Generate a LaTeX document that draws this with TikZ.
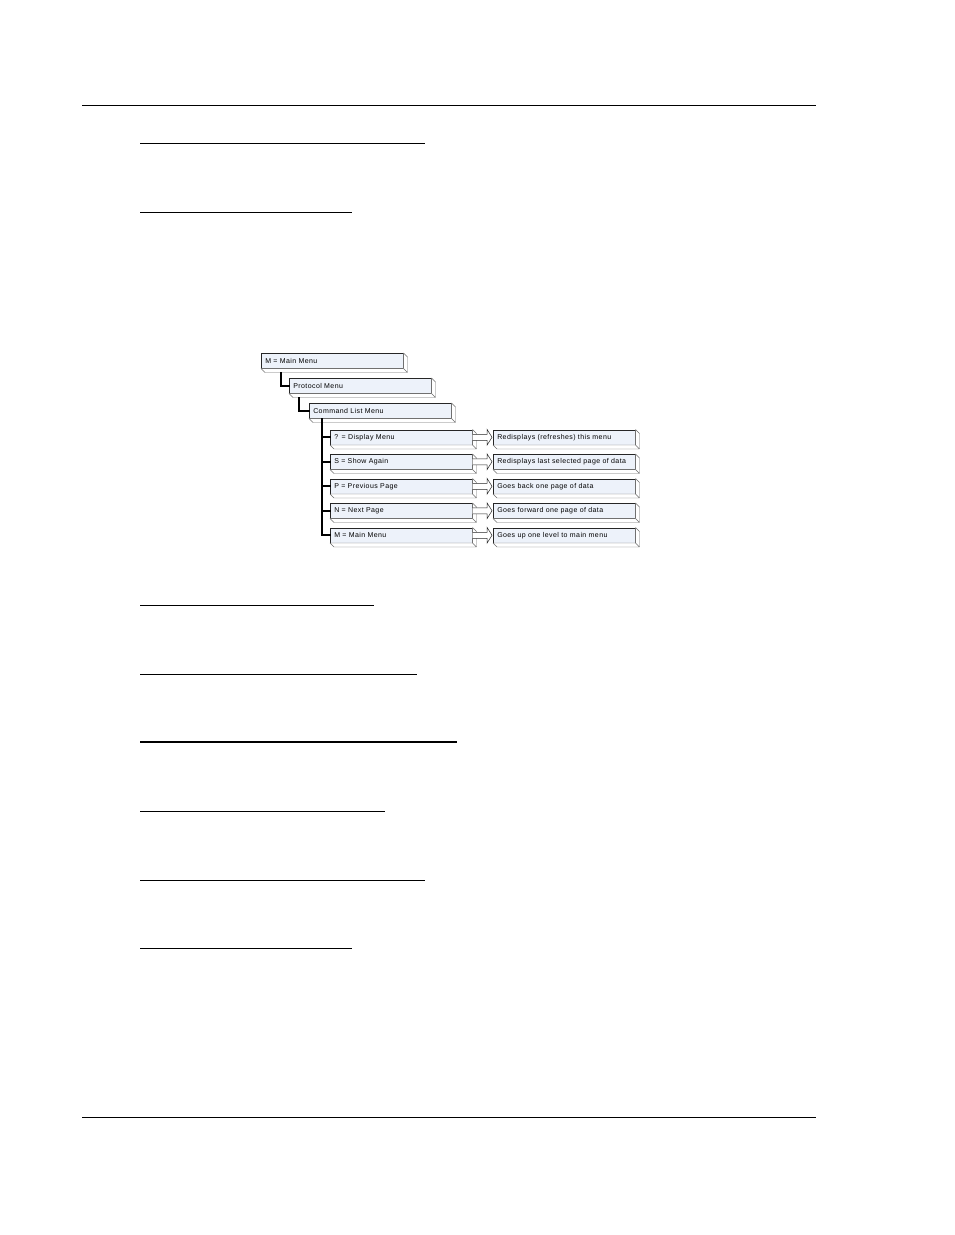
\documentclass[tikz,border=0pt]{standalone}
\usepackage{fontspec}
\setmainfont{Liberation Sans}[LetterSpace=6]
\usetikzlibrary{calc}
\definecolor{boxfill}{RGB}{237,242,250}
\definecolor{bevelline}{RGB}{110,110,110}
\begin{document}
\begin{tikzpicture}
          [x=1pt,y=-1pt,
           menubox/.style={draw=black!85, fill=boxfill, line width=0.5pt, anchor=north west,
             minimum width=142pt, minimum height=15pt, text width=134pt, inner xsep=4pt, inner ysep=0pt,
             align=left, font=\fontsize{7}{8}\selectfont},
           link/.style={line width=1.8pt, line cap=rect},
           hollow/.style={draw=black!85, fill=white, line width=0.5pt, line join=miter}]
        \useasboundingbox (0,0) rectangle (954,1235);

        % page rules
        \draw[line width=0.9pt] (82,105) -- (816,105);
        \draw[line width=0.9pt] (82,1117) -- (816,1117);
        \foreach \y/\len in {143/425, 212/352, 605/374, 674/417, 811/385, 880/425, 948/352}
          \draw[line width=0.9pt] (140,\y) -- (\len,\y);
        \draw[line width=1.3pt] (140,742) -- (457,742);

        % menu boxes
        \node[menubox] (mainm) at (261,353) {M = Main Menu};
        \node[menubox] (proto) at (289,378) {Protocol Menu};
        \node[menubox] (cmdl) at (309,403) {Command List Menu};
        \node[menubox] (disp) at (330,429.5) {? = Display Menu};
        \node[menubox] (show) at (330,454) {S = Show Again};
        \node[menubox] (prev) at (330,478.5) {P = Previous Page};
        \node[menubox] (next) at (330,503) {N = Next Page};
        \node[menubox] (back) at (330,527.5) {M = Main Menu};
        \node[menubox] (dispd) at (493,429.5) {Redisplays (refreshes) this menu};
        \node[menubox] (showd) at (493,454) {Redisplays last selected page of data};
        \node[menubox] (prevd) at (493,478.5) {Goes back one page of data};
        \node[menubox] (nextd) at (493,503) {Goes forward one page of data};
        \node[menubox] (backd) at (493,527.5) {Goes up one level to main menu};

        % bevels
        \foreach \n in {mainm, proto, cmdl, disp, show, prev, next, back, dispd, showd, prevd, nextd, backd}
          \draw[bevelline, fill=white, line width=0.4pt, line join=round]
            (\n.north east) -- ++(4,4) -- ($(\n.south east)+(4pt,-4pt)$) -- ($(\n.south west)+(4pt,-4pt)$)
            -- (\n.south west) -- (\n.south east) -- cycle
            (\n.south east) -- ++(4,4);

        % tree links
        \draw[link] (mainm.south west) ++(20,4) |- (proto.west);
        \draw[link] (proto.south west) ++(10,4) |- (cmdl.west);
        \draw[link] (cmdl.south west) ++(13,4) |- (back.west);
        \foreach \n in {disp, show, prev, next}
          \draw[link] (cmdl.south west) ++(13,0) |- (\n.west);

        % hollow arrows to descriptions
        \foreach \from/\to in {disp/dispd, show/showd, prev/prevd, next/nextd, back/backd}
          \draw[hollow] ($(\from.east)+(0,-3)$) -- ($(\to.west)+(-6,-3)$) -- ($(\to.west)+(-6,-8)$)
            -- ($(\to.west)+(-1,0)$) -- ($(\to.west)+(-6,8)$) -- ($(\to.west)+(-6,3)$)
            -- ($(\from.east)+(0,3)$);
      \end{tikzpicture}
\end{document}
